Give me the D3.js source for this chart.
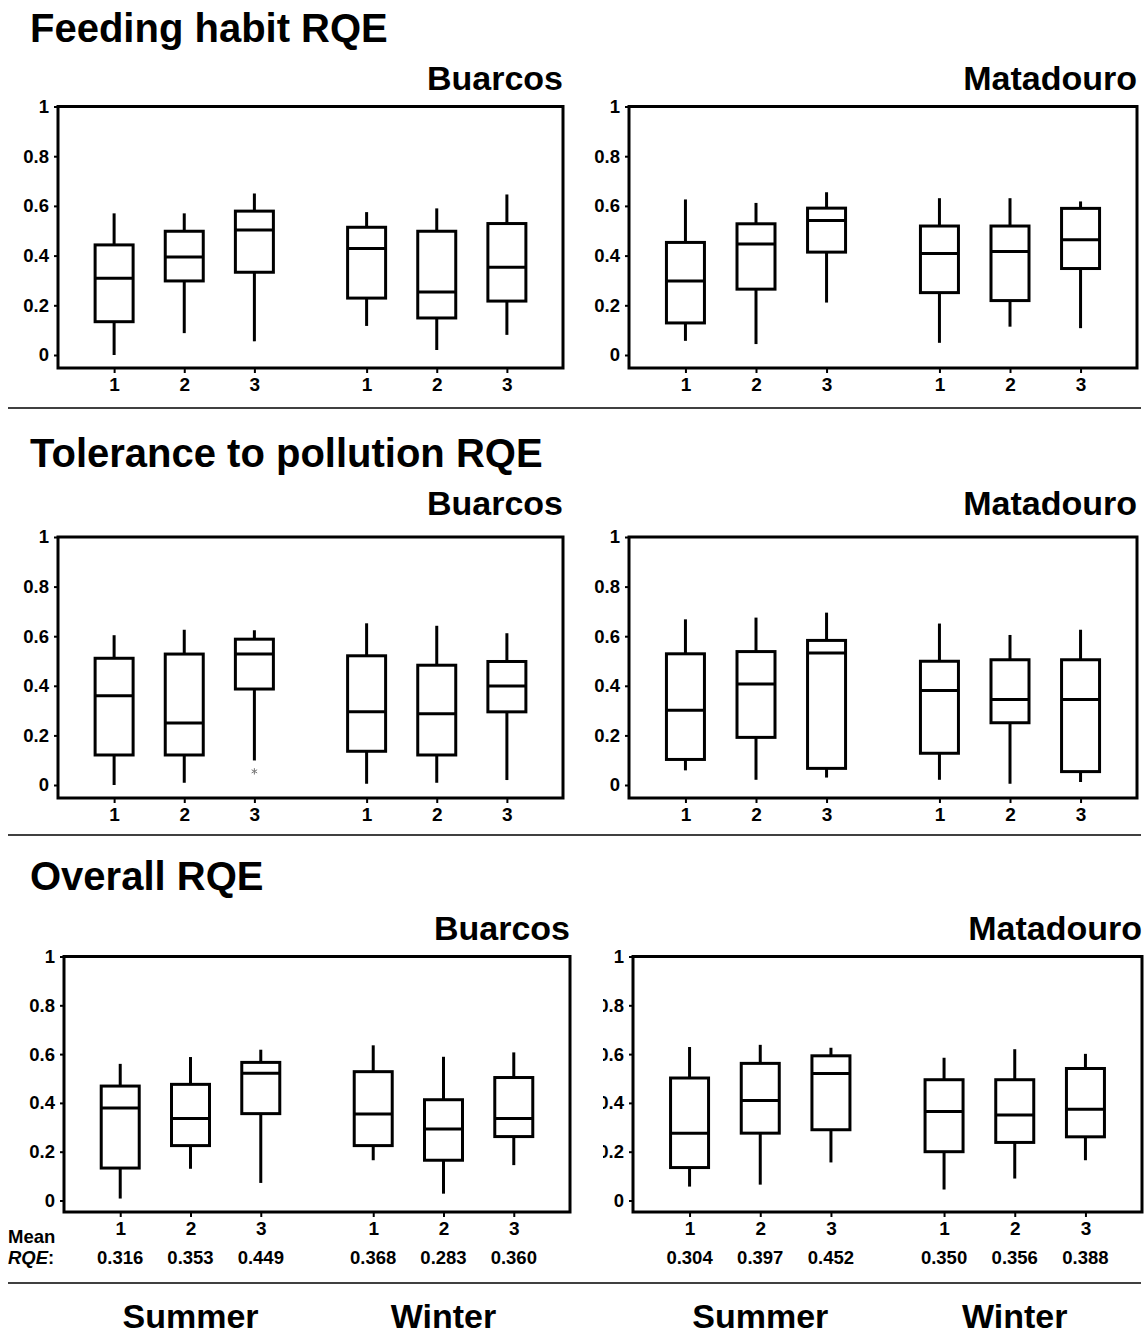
<!DOCTYPE html>
<html>
<head>
<meta charset="utf-8">
<script src="https://cdn.jsdelivr.net/npm/d3@7"></script>
<style>
  html, body { margin: 0; padding: 0; background: #fff; }
  svg { display: block; font-family: "Liberation Sans", Arial, sans-serif; }
</style>
</head>
<body>
<svg id="chart" width="1145" height="1334"></svg>
<script>
// Stations sampled in each season, and the seasons shown in every panel
const stations = ["1", "2", "3"];
const seasons = ["Summer", "Winter"];
const sites = ["Buarcos", "Matadouro"];
const yTicks = [0, 0.2, 0.4, 0.6, 0.8, 1];

// Box summaries per station: [lower whisker, Q1, median, Q3, upper whisker]
// order: Summer 1, 2, 3, Winter 1, 2, 3
const feedingBuarcos = [
  [0.00, 0.134, 0.309, 0.443, 0.57],
  [0.088, 0.298, 0.394, 0.498, 0.57],
  [0.055, 0.333, 0.503, 0.579, 0.65],
  [0.117, 0.229, 0.429, 0.514, 0.575],
  [0.02, 0.149, 0.254, 0.498, 0.59],
  [0.081, 0.217, 0.353, 0.529, 0.646]
];
const feedingMatadouro = [
  [0.057, 0.129, 0.298, 0.453, 0.626],
  [0.044, 0.265, 0.447, 0.528, 0.612],
  [0.211, 0.414, 0.541, 0.591, 0.655],
  [0.049, 0.251, 0.408, 0.519, 0.631],
  [0.114, 0.219, 0.417, 0.519, 0.631],
  [0.108, 0.348, 0.464, 0.59, 0.618]
];
const toleranceBuarcos = [
  [0.00, 0.121, 0.36, 0.511, 0.604],
  [0.009, 0.121, 0.25, 0.528, 0.626],
  [0.099, 0.387, 0.528, 0.588, 0.624],
  [0.005, 0.136, 0.295, 0.521, 0.652],
  [0.009, 0.121, 0.287, 0.483, 0.642],
  [0.02, 0.295, 0.399, 0.498, 0.612]
];
const toleranceBuarcosOutliers = [[2, 0.055]];
const toleranceMatadouro = [
  [0.059, 0.103, 0.301, 0.529, 0.668],
  [0.021, 0.192, 0.407, 0.538, 0.675],
  [0.03, 0.067, 0.532, 0.583, 0.695],
  [0.021, 0.128, 0.381, 0.499, 0.651],
  [0.005, 0.251, 0.345, 0.505, 0.605],
  [0.012, 0.054, 0.345, 0.505, 0.626]
];
const overallBuarcos = [
  [0.008, 0.133, 0.379, 0.469, 0.56],
  [0.13, 0.225, 0.336, 0.476, 0.588],
  [0.072, 0.356, 0.522, 0.566, 0.618],
  [0.165, 0.225, 0.355, 0.528, 0.636],
  [0.028, 0.165, 0.293, 0.413, 0.589],
  [0.145, 0.262, 0.336, 0.504, 0.607]
];
const overallMatadouro = [
  [0.057, 0.135, 0.276, 0.502, 0.629],
  [0.065, 0.276, 0.41, 0.562, 0.638],
  [0.156, 0.29, 0.52, 0.593, 0.626],
  [0.045, 0.2, 0.365, 0.495, 0.585],
  [0.09, 0.238, 0.35, 0.495, 0.62],
  [0.165, 0.261, 0.374, 0.541, 0.601]
];
// Mean overall RQE per station, printed under the bottom panels
const meanOverallBuarcos = [0.316, 0.353, 0.449, 0.368, 0.283, 0.360];
const meanOverallMatadouro = [0.304, 0.397, 0.452, 0.350, 0.356, 0.388];

const rowTitles = ["Feeding habit RQE", "Tolerance to pollution RQE", "Overall RQE"];

// ---- layout ----
const svg = d3.select("#chart");
const FONT = "'Liberation Sans', Arial, sans-serif";
const rows = [
  { title: rowTitles[0], titleY: 42, siteY: 90, top: 106.5, zero: 355, bottom: 368,
    frames: [[58, 563], [629, 1137]],
    data: [feedingBuarcos, feedingMatadouro], outliers: [[], []] },
  { title: rowTitles[1], titleY: 467, siteY: 515, top: 537, zero: 785, bottom: 798,
    frames: [[58, 563], [629, 1137]],
    data: [toleranceBuarcos, toleranceMatadouro], outliers: [toleranceBuarcosOutliers, []] },
  { title: rowTitles[2], titleY: 890, siteY: 940, top: 956.5, zero: 1200.5, bottom: 1212,
    frames: [[64, 570], [633, 1142]],
    data: [overallBuarcos, overallMatadouro], outliers: [[], []],
    means: [meanOverallBuarcos, meanOverallMatadouro] }
];
const separatorsY = [408, 835, 1283];

// slot positions along each panel: three summer stations, a gap, three winter stations
const slotPos = [1, 2, 3, 4.6, 5.6, 6.6];
const slotDomain = [0.2, 7.4];
const seasonCentre = [2, 5.6];
const halfBox = 19;

// the last panel's tick labels are cut off on their left side
svg.append("defs").append("clipPath").attr("id", "cutLeft")
  .append("rect").attr("x", 603).attr("y", 0).attr("width", 600).attr("height", 1334);

rows.forEach((row, ri) => {
  svg.append("text")
    .attr("x", 30).attr("y", row.titleY)
    .attr("font-size", 40).attr("font-weight", "bold").attr("fill", "#000")
    .text(row.title);

  row.frames.forEach((fr, pi) => {
    const x = d3.scaleLinear().domain(slotDomain).range(fr);
    const y = d3.scaleLinear().domain([0, 1]).range([row.zero, row.top]);
    const g = svg.append("g");

    // site name, right-aligned to the frame
    g.append("text")
      .attr("x", fr[1]).attr("y", row.siteY)
      .attr("text-anchor", "end")
      .attr("font-size", 34).attr("font-weight", "bold")
      .text(sites[pi]);

    // y axis
    const yWrap = g.append("g");
    if (ri === 2 && pi === 1) yWrap.attr("clip-path", "url(#cutLeft)");
    const yAxis = yWrap.append("g")
      .attr("transform", `translate(${fr[0]},0)`)
      .call(d3.axisLeft(y).tickValues(yTicks).tickSize(4).tickPadding(5)
        .tickFormat(d => d === 0 ? "0" : d === 1 ? "1" : d3.format(".1f")(d)));
    yAxis.attr("font-size", null).attr("font-family", null);
    yAxis.select(".domain").remove();
    yAxis.selectAll("line").attr("stroke", "#000").attr("stroke-width", 2);
    yAxis.selectAll("text").style("font-size", "18.5px").style("font-weight", "bold")
      .style("font-family", FONT).attr("fill", "#000");

    // x axis with station numbers
    const xAxis = g.append("g")
      .attr("transform", `translate(0,${row.bottom})`)
      .call(d3.axisBottom(x).tickValues(slotPos).tickSize(5).tickPadding(5)
        .tickFormat((d, i) => stations[i % 3]));
    xAxis.attr("font-size", null).attr("font-family", null);
    xAxis.select(".domain").remove();
    xAxis.selectAll("line").attr("stroke", "#000").attr("stroke-width", 2);
    xAxis.selectAll("text").style("font-size", "19px").style("font-weight", "bold")
      .style("font-family", FONT).attr("fill", "#000");

    // frame
    g.append("rect")
      .attr("x", fr[0]).attr("y", row.top)
      .attr("width", fr[1] - fr[0]).attr("height", row.bottom - row.top)
      .attr("fill", "none").attr("stroke", "#000").attr("stroke-width", 3);

    // boxes
    const boxes = g.selectAll(".box").data(row.data[pi]).join("g").attr("class", "box");
    boxes.append("line")
      .attr("x1", (d, i) => x(slotPos[i])).attr("x2", (d, i) => x(slotPos[i]))
      .attr("y1", d => y(d[4])).attr("y2", d => y(d[3]))
      .attr("stroke", "#000").attr("stroke-width", 3);
    boxes.append("line")
      .attr("x1", (d, i) => x(slotPos[i])).attr("x2", (d, i) => x(slotPos[i]))
      .attr("y1", d => y(d[1])).attr("y2", d => y(d[0]))
      .attr("stroke", "#000").attr("stroke-width", 3);
    boxes.append("rect")
      .attr("x", (d, i) => x(slotPos[i]) - halfBox)
      .attr("y", d => y(d[3]))
      .attr("width", halfBox * 2)
      .attr("height", d => y(d[1]) - y(d[3]))
      .attr("fill", "#fff").attr("stroke", "#000").attr("stroke-width", 3);
    boxes.append("line")
      .attr("x1", (d, i) => x(slotPos[i]) - halfBox).attr("x2", (d, i) => x(slotPos[i]) + halfBox)
      .attr("y1", d => y(d[2])).attr("y2", d => y(d[2]))
      .attr("stroke", "#000").attr("stroke-width", 3);

    // outliers
    g.selectAll(".outlier").data(row.outliers[pi]).join("path")
      .attr("class", "outlier")
      .attr("transform", d => `translate(${x(slotPos[d[0]])},${y(d[1])})`)
      .attr("d", d3.symbol(d3.symbolAsterisk, 28))
      .attr("fill", "none").attr("stroke", "#777").attr("stroke-width", 1);

    // mean RQE row and season names under the bottom panels
    if (row.means) {
      g.selectAll(".mean").data(row.means[pi]).join("text")
        .attr("class", "mean")
        .attr("x", (d, i) => x(slotPos[i])).attr("y", 1264)
        .attr("text-anchor", "middle")
        .attr("font-size", 18.5).attr("font-weight", "bold")
        .text(d => d3.format(".3f")(d));
      g.selectAll(".season").data(seasons).join("text")
        .attr("class", "season")
        .attr("x", (d, i) => x(seasonCentre[i])).attr("y", 1328)
        .attr("text-anchor", "middle")
        .attr("font-size", 34).attr("font-weight", "bold")
        .text(d => d);
    }
  });
});

// "Mean RQE:" caption
svg.append("text").attr("x", 8).attr("y", 1243)
  .attr("font-size", 18.5).attr("font-weight", "bold").text("Mean");
const rqe = svg.append("text").attr("x", 8).attr("y", 1264)
  .attr("font-size", 18.5).attr("font-weight", "bold");
rqe.append("tspan").attr("font-style", "italic").text("RQE");
rqe.append("tspan").text(":");

// horizontal separators between rows
svg.selectAll(".sep").data(separatorsY).join("line")
  .attr("class", "sep")
  .attr("x1", 8).attr("x2", 1141)
  .attr("y1", d => d).attr("y2", d => d)
  .attr("stroke", "#000").attr("stroke-width", 1.5);
</script>
</body>
</html>
